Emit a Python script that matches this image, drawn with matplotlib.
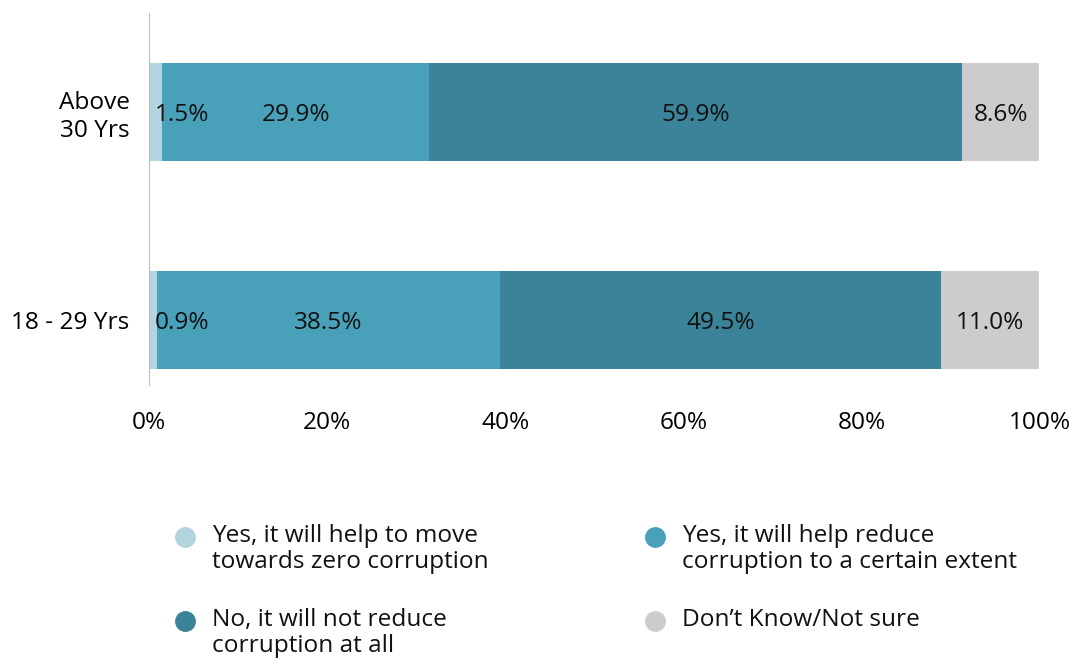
import numpy as np
import matplotlib.pyplot as plt
from matplotlib.lines import Line2D

plt.rcParams['font.family'] = ['Open Sans', 'DejaVu Sans']

groups = ['18 - 29 Yrs', 'Above\n30 Yrs']
responses = ['Yes, it will help to move\ntowards zero corruption',
             'Yes, it will help reduce\ncorruption to a certain extent',
             'No, it will not reduce\ncorruption at all',
             'Don\u2019t Know/Not sure']
zero_corruption = [0.9, 1.5]
certain_extent = [38.5, 29.9]
not_at_all = [49.5, 59.9]
not_sure = [11.0, 8.6]
colors = ['#b3d5df', '#48a1b9', '#3a8398', '#cccccc']
ticks = [0, 20, 40, 60, 80, 100]

series = [zero_corruption, certain_extent, not_at_all, not_sure]
fs = 17.6
W, H = 1076, 658

fig = plt.figure(figsize=(W / 100, H / 100), dpi=100)
ax = fig.add_axes([0.1385, 0.415, 0.828, 0.565])

y = np.arange(len(groups))
left = np.zeros(len(groups))
for vals, col in zip(series, colors):
    vals = np.array(vals)
    ax.barh(y, vals, left=left, height=0.47, color=col)
    for yi, l, v in zip(y, left, vals):
        txt = f'{v:.1f}%'
        # tiny segments get their label just right of the bar start
        if v < 5:
            xy, dx, ha = (l, yi), 4, 'left'
        else:
            xy, dx, ha = (l + v / 2, yi), 0, 'center'
        ax.annotate(txt, xy, xytext=(dx, -2), textcoords='offset points',
                    ha=ha, va='center', fontsize=fs, color='#111111')
    left += vals

ax.set_xlim(0, 100)
ax.set_ylim(-0.3125, 1.476)
ax.set_xticks(ticks)
ax.set_xticklabels([f'{t}%' for t in ticks], fontsize=fs)
ax.set_yticks(y)
ax.set_yticklabels(groups, fontsize=fs, linespacing=1.2)
ax.tick_params(length=0)
ax.tick_params(axis='x', pad=19)
ax.tick_params(axis='y', pad=14)
for s in ['top', 'right', 'bottom']:
    ax.spines[s].set_visible(False)
ax.spines['left'].set_color('#bbbbbb')

# legend laid out by hand: 2 columns, marker level with the first text line
col_x = [185, 655]
row_y = [537, 621]
for i, (lab, c) in enumerate(zip(responses, colors)):
    cx, ry = col_x[i % 2], row_y[i // 2]
    fig.add_artist(Line2D([cx / W], [1 - ry / H], transform=fig.transFigure,
                          marker='o', markersize=14, linestyle='none',
                          markerfacecolor=c, markeredgecolor=c))
    fig.text((cx + 27) / W, 1 - (ry - 13) / H, lab, ha='left', va='top',
             fontsize=fs, linespacing=1.1, color='#111111')

fig.savefig('out.png')
